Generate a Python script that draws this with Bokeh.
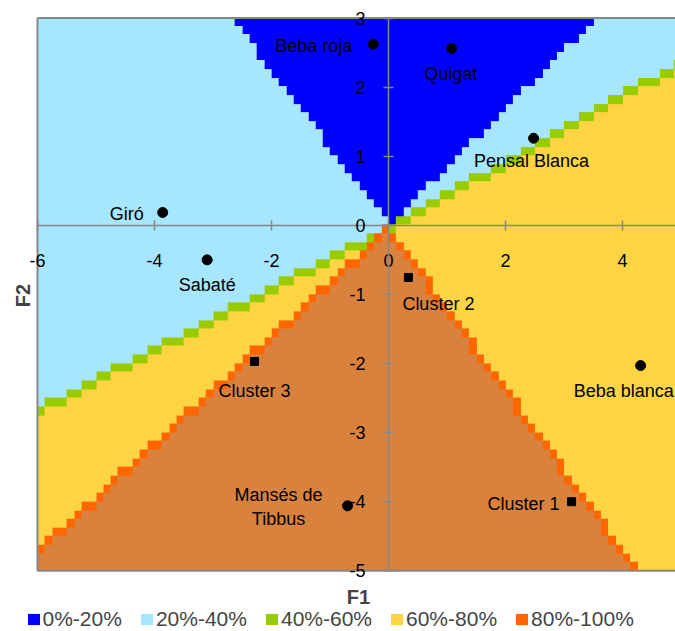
import numpy as np
from bokeh.plotting import figure
from bokeh.models import (LinearAxis, FixedTicker, Label, Legend, LegendItem,
                          LinearColorMapper, ColumnDataSource, PrintfTickFormatter)
from bokeh.core.properties import value, field
from bokeh.embed import file_html
from bokeh.resources import INLINE

# ---------------- data ----------------
products = ["Beba roja", "Quigat", "Pensal Blanca", "Giró", "Sabaté",
            "Beba blanca", "Mansés de\nTibbus"]
products_f1 = [-0.26, 1.08, 2.48, -3.86, -3.10, 4.31, -0.70]
products_f2 = [2.62, 2.56, 1.26, 0.185, -0.50, -2.03, -4.06]

clusters = ["Cluster 1", "Cluster 2", "Cluster 3"]
clusters_f1 = [3.13, 0.34, -2.29]
clusters_f2 = [-4.00, -0.755, -1.97]

class_labels = ["0%-20%", "20%-40%", "40%-60%", "60%-80%", "80%-100%"]

# sector boundaries of the preference map (degrees from +F1 axis)
sector_0_20 = [[40.0, 132.0]]
sector_20_40 = [[132.0, 203.7], [25.6, 40.0]]
sector_60_80 = [[203.7, 217.9], [-49.4, 25.6]]
grid_step = 0.125         # map resolution (F units)
grid_x_cells = [-48, 40]  # cell index range along F1
grid_y_cells = [-40, 24]  # cell index range along F2

x_ticks = [-6, -4, -2, 0, 2, 4]
y_ticks = [-5, -4, -3, -2, -1, 0, 1, 2, 3]

# ---------------- styles / placement ----------------
c_blue, c_lblue, c_green, c_yellow, c_orange, c_brown = (
    "#0000FF", "#A6E6FF", "#99CC00", "#FDD443", "#FF6600", "#D9823E")
legend_colors = [c_blue, c_lblue, c_green, c_yellow, c_orange]
FONT = "Liberation Sans"
GRAY = "#868686"

W, H = 675, 631
PX_X, PX_Y = 58.5, 69.1      # pixels per unit
LEFT_PX, TOP_PX = 37, 17.5   # position of F1=-6 and F2=3
x_start = x_ticks[0] - LEFT_PX / PX_X
x_end = x_ticks[0] + (W - LEFT_PX) / PX_X
y_end = y_ticks[-1] + TOP_PX / PX_Y
y_start = y_ticks[-1] - (H - TOP_PX) / PX_Y

prod_align = ["right", "center", "center", "right", "center", "left", "center"]
prod_dx = [-21, -1, -2, -19, 0, -67, -69]
prod_dy = [2, 26, 23, 1, 25, 25, 1]
clus_align = ["right", "center", "center"]
clus_dx = [-12, 30, 0]
clus_dy = [2, 27, 30]

# ---------------- build class grid ----------------
ix = np.arange(grid_x_cells[0], grid_x_cells[1])
iy = np.arange(grid_y_cells[0], grid_y_cells[1])
X, Y = np.meshgrid((ix + 0.5) * grid_step, (iy + 0.5) * grid_step)
ang = np.degrees(np.arctan2(Y, X)) % 360


def in_sector(a, a0, a1):
    return ((a - a0) % 360) < ((a1 - a0) % 360)


cls = np.full(X.shape, 5, dtype=int)  # core (80-100 interior)
for a0, a1 in sector_60_80:
    cls[in_sector(ang, a0, a1)] = 3
for a0, a1 in sector_20_40:
    cls[in_sector(ang, a0, a1)] = 1
for a0, a1 in sector_0_20:
    cls[in_sector(ang, a0, a1)] = 0


def neighbour_in(arr, vals):
    pad = np.pad(arr, 1, mode="edge")
    res = np.zeros(arr.shape, dtype=bool)
    for dy, dx in [(-1, 0), (1, 0), (0, -1), (0, 1)]:
        sh = pad[1 + dy:1 + dy + arr.shape[0], 1 + dx:1 + dx + arr.shape[1]]
        res |= np.isin(sh, vals)
    return res


base = cls.copy()
cls[(base == 3) & neighbour_in(base, [0, 1])] = 2
cls[(base == 5) & neighbour_in(base, [0, 1, 3])] = 4

img = np.repeat(np.repeat(cls, 9, axis=0), 7, axis=1).astype(float)
mapper = LinearColorMapper(palette=[c_blue, c_lblue, c_green, c_yellow, c_orange, c_brown],
                           low=-0.5, high=5.5)

# ---------------- figure ----------------
p = figure(width=W, height=H, x_range=(x_start, x_end), y_range=(y_start, y_end),
           x_axis_location=None, y_axis_location=None, title=None,
           toolbar_location=None, output_backend="svg",
           min_border_left=0, min_border_right=0, min_border_top=0, min_border_bottom=0)
p.outline_line_color = None
p.background_fill_color = "white"
p.border_fill_color = "white"
p.grid.grid_line_color = None

p.image(image=[img], x=grid_x_cells[0] * grid_step, y=grid_y_cells[0] * grid_step,
        dw=(grid_x_cells[1] - grid_x_cells[0]) * grid_step,
        dh=(grid_y_cells[1] - grid_y_cells[0]) * grid_step,
        color_mapper=mapper)

# plot-area border (left, top, bottom)
p.segment(x0=[x_ticks[0], x_ticks[0], x_ticks[0]],
          y0=[y_ticks[0], y_ticks[-1], y_ticks[0]],
          x1=[x_ticks[0], x_end, x_end],
          y1=[y_ticks[-1], y_ticks[-1], y_ticks[0]],
          line_color=GRAY, line_width=2)

xaxis = LinearAxis(fixed_location=0, ticker=FixedTicker(ticks=x_ticks),
                   bounds=(x_ticks[0], x_end))
yaxis = LinearAxis(fixed_location=0, ticker=FixedTicker(ticks=y_ticks),
                   bounds=(y_ticks[0], y_ticks[-1]))
for ax, so in [(xaxis, 24), (yaxis, 18)]:
    ax.formatter = PrintfTickFormatter(format="%d")
    ax.axis_line_color = GRAY
    ax.axis_line_width = 1.5
    ax.major_tick_line_color = GRAY
    ax.major_tick_line_width = 1.5
    ax.major_tick_in = 5
    ax.major_tick_out = 5
    ax.minor_tick_line_color = None
    ax.major_label_text_font = FONT
    ax.major_label_text_font_size = "18px"
    ax.major_label_text_color = "black"
    ax.major_label_standoff = so
p.add_layout(xaxis, "below")
p.add_layout(yaxis, "left")

p.scatter(products_f1, products_f2, marker="circle", size=10, color="black")
p.scatter(clusters_f1, clusters_f2, marker="square", size=8, color="black")

src = ColumnDataSource(dict(
    x=products_f1 + clusters_f1, y=products_f2 + clusters_f2,
    t=products + clusters, align=prod_align + clus_align,
    dx=prod_dx + clus_dx, dy=prod_dy + clus_dy))
p.text(x="x", y="y", text="t", source=src, text_align=field("align"),
       x_offset=field("dx"), y_offset=field("dy"), text_baseline="middle",
       text_font=value(FONT), text_font_size="18px", text_color="black",
       text_line_height=1.2)

items = []
for lab, col in zip(class_labels, legend_colors):
    # legend swatch only: one undefined (NaN) point so no mark is drawn in the plot
    r = p.rect(x=[np.nan], y=[np.nan], width=1, height=1, fill_color=col, line_color=None)
    items.append(LegendItem(label=lab, renderers=[r]))
legend = Legend(items=items, orientation="horizontal", location=(25.5, 0),
                glyph_width=15, glyph_height=14, label_standoff=2, spacing=17,
                padding=0, margin=0, background_fill_alpha=0, border_line_color=None,
                label_text_font=FONT, label_text_font_size="21px")
p.add_layout(legend)

p.add_layout(Label(x=358, y=35, x_units="screen", y_units="screen", text="F1",
                   text_font=FONT, text_font_style="bold", text_font_size="20px",
                   text_align="center", text_baseline="middle"))
p.add_layout(Label(x=22, y=336, x_units="screen", y_units="screen", text="F2",
                   angle=90, angle_units="deg",
                   text_font=FONT, text_font_style="bold", text_font_size="20px",
                   text_align="center", text_baseline="middle"))

open("out.html", "w").write(file_html(p, INLINE))
